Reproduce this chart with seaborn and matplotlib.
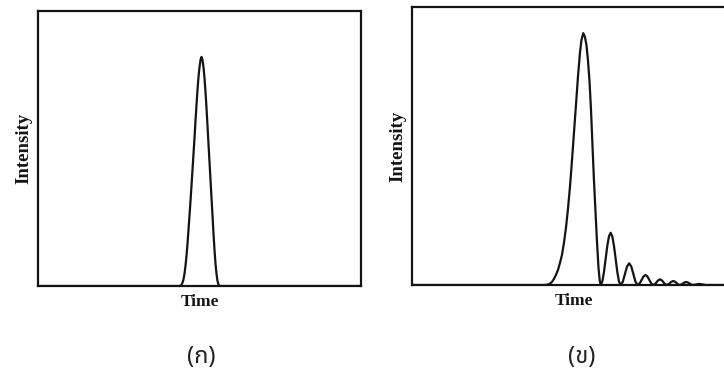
import matplotlib
matplotlib.use('Agg')
import pandas as pd
import matplotlib.pyplot as plt
import seaborn as sns

sns.set_theme(style='white')
plt.rcParams['font.family'] = ['Liberation Serif', 'DejaVu Serif']

# ---- data (time 0-100, intensity 0-100) ----
# (ก) single narrow peak
time_a = [0, 43.80, 44.10, 44.40, 44.70, 45.00, 45.35, 45.66, 45.97, 46.28, 46.59,
          46.90, 47.21, 47.52, 47.83, 48.14, 48.45, 48.76, 49.07, 49.38, 49.69,
          50.00, 50.31, 50.62, 50.93, 51.24, 51.55, 51.86, 52.17, 52.48, 52.79,
          53.10, 53.41, 53.72, 54.03, 54.34, 54.65, 54.96, 55.27, 55.58, 55.89,
          56.20, 100]
intensity_a = [0, 0, 0.1, 0.4, 1.1, 2.2, 4.4, 7.3, 10.9, 15.3, 20.4,
               25.5, 30.9, 36.4, 42.2, 48.0, 53.8, 60.0, 65.8, 71.3, 76.0,
               79.6, 82.2, 83.3, 82.2, 79.6, 75.6, 70.5, 64.7, 58.2, 51.6,
               45.1, 38.5, 32.0, 25.5, 18.9, 13.1, 8.0, 4.4, 1.8, 0.5,
               0, 0]

# (ข) broad main peak
time_b_main = [0, 41.05, 41.98, 42.59, 43.21, 43.83, 44.44, 45.06, 45.68, 46.30,
               46.91, 47.53, 48.15, 48.77, 49.38, 50.00, 50.62, 51.23, 51.85,
               52.31, 52.87, 53.40, 53.86, 54.32, 54.78, 55.25, 55.71, 56.17,
               56.64, 57.10, 57.56, 57.93]
intensity_b_main = [0, 0, 0.2, 0.5, 1.1, 2.2, 3.6, 5.4, 7.9, 10.8,
                    15.1, 20.5, 27.3, 35.3, 44.6, 54.7, 64.7, 74.8, 83.5,
                    88.1, 90.6, 89.2, 86.3, 80.9, 73.7, 63.3, 50.4, 37.8,
                    26.6, 15.8, 6.5, 1.8]
# (ข) decaying ringing after the main peak
time_b_ring = [58.24, 58.75, 59.27, 59.78, 60.30, 60.81, 61.33, 61.84, 62.35,
               62.87, 63.38, 63.90, 64.41,
               65.07, 65.72, 66.38, 67.04, 67.69, 68.35, 69.00, 69.66,
               70.26, 70.87, 71.47, 72.07, 72.67, 73.28, 73.88, 74.48,
               75.17, 75.87, 76.56, 77.25, 77.95, 78.64,
               79.31, 79.98, 80.65, 81.31, 81.98, 82.65,
               83.32, 83.99, 84.66, 85.33, 86.00, 86.67,
               88.68, 90.69, 100]
intensity_b_ring = [0, 1.26, 4.7, 9.4, 14.1, 17.5, 18.8, 17.5, 14.1,
                    9.4, 4.7, 1.26, 0,
                    1.14, 3.9, 6.66, 7.8, 6.66, 3.9, 1.14, 0,
                    0.53, 1.8, 3.07, 3.6, 3.07, 1.8, 0.53, 0,
                    0.51, 1.54, 2.05, 1.54, 0.51, 0,
                    0.36, 1.09, 1.45, 1.09, 0.36, 0,
                    0.28, 0.83, 1.1, 0.83, 0.28, 0,
                    0.4, 0, 0]
time_b = time_b_main + time_b_ring
intensity_b = intensity_b_main + intensity_b_ring

captions = ['(ก)', '(ข)']
ink = '#141414'

fig = plt.figure(figsize=(7.24, 3.71), dpi=100)
ax_a = fig.add_axes([0.0525, 0.2291, 0.4461, 0.7413])
ax_b = fig.add_axes([0.5690, 0.2318, 0.4475, 0.7493])

panels = [(ax_a, time_a, intensity_a), (ax_b, time_b, intensity_b)]
for ax, t, y in panels:
    df = pd.DataFrame({'Time': t, 'Intensity': y})
    sns.lineplot(data=df, x='Time', y='Intensity', ax=ax, color=ink,
                 linewidth=1.6, sort=False)
    ax.set_xlim(0, 100)
    ax.set_ylim(0, 100)
    ax.set_xticks([])
    ax.set_yticks([])
    for sp in ax.spines.values():
        sp.set_visible(True)
        sp.set_color(ink)
        sp.set_linewidth(1.6)
    ax.set_xlabel('Time', fontsize=12.5, fontweight='bold', color=ink, labelpad=6)
    ax.set_ylabel('Intensity', fontsize=13.5, fontweight='bold', color=ink, labelpad=4)

# Thai captions under each panel
caption_x = [0.278, 0.803]
for cx, cap in zip(caption_x, captions):
    fig.text(cx, 0.037, cap, ha='center', va='center', fontsize=17, color='#222222',
             family=['Noto Sans Thai', 'DejaVu Sans'])

fig.savefig('out.png', dpi=100)
